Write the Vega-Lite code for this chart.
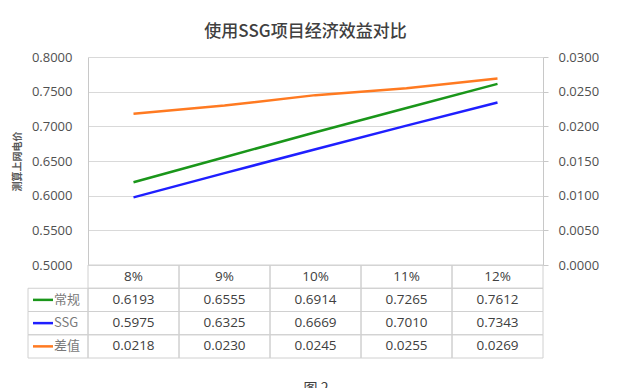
{
  "$schema": "https://vega.github.io/schema/vega-lite/v6.json",
  "padding": {"left": 12, "top": 23, "right": 5, "bottom": 0},
  "autosize": {"type": "pad"},
  "config": {"view": {"stroke": null}, "font": "Open Sans", "concat": {"spacing": 0}},
  "title": {"text": "使用SSG项目经济效益对比", "font": "Noto Sans CJK SC", "fontSize": 17, "fontWeight": 500, "color": "#404040", "anchor": "middle", "offset": 10},
  "datasets": {
    "d": [
      {"pct": "8%", "series": "常规", "value": 0.6193},
      {"pct": "9%", "series": "常规", "value": 0.6555},
      {"pct": "10%", "series": "常规", "value": 0.6914},
      {"pct": "11%", "series": "常规", "value": 0.7265},
      {"pct": "12%", "series": "常规", "value": 0.7612},
      {"pct": "8%", "series": "SSG", "value": 0.5975},
      {"pct": "9%", "series": "SSG", "value": 0.6325},
      {"pct": "10%", "series": "SSG", "value": 0.6669},
      {"pct": "11%", "series": "SSG", "value": 0.7010},
      {"pct": "12%", "series": "SSG", "value": 0.7343},
      {"pct": "8%", "series": "差值", "value": 0.0218},
      {"pct": "9%", "series": "差值", "value": 0.0230},
      {"pct": "10%", "series": "差值", "value": 0.0245},
      {"pct": "11%", "series": "差值", "value": 0.0255},
      {"pct": "12%", "series": "差值", "value": 0.0269}
    ]
  },
  "columns": 2,
  "spacing": 0,
  "bounds": "flush",
  "align": "each",
  "concat": [
    {"width": 60, "height": 208, "data": {"values": []}, "mark": "point", "encoding": {}},
    {
      "width": 455,
      "height": 208,
      "data": {"name": "d"},
      "layer": [
        {
          "transform": [{"filter": "datum.series !== '差值'"}],
          "mark": {"type": "line", "strokeWidth": 2.5},
          "encoding": {
            "x": {"field": "pct", "type": "ordinal", "sort": ["8%", "9%", "10%", "11%", "12%"], "axis": null},
            "y": {"field": "value", "type": "quantitative", "scale": {"domain": [0.5, 0.8], "zero": false, "nice": false},
              "axis": {"orient": "left", "values": [0.5, 0.55, 0.6, 0.65, 0.7, 0.75, 0.8], "format": ".4f", "title": "测算上网电价",
                "titleFont": "Noto Sans CJK SC", "titleFontSize": 10, "titleFontWeight": "bold", "titleColor": "#595959", "titlePadding": 9,
                "labelFontSize": 13, "labelColor": "#505050", "labelPadding": 16, "ticks": false,
                "domain": true, "domainColor": "#c8c8c8", "grid": true, "gridColor": "#d9d9d9"}},
            "color": {"field": "series", "type": "nominal", "scale": {"domain": ["常规", "SSG", "差值"], "range": ["#1a961a", "#1f1fff", "#ff7a21"]}, "legend": null}
          }
        },
        {
          "transform": [{"filter": "datum.series === '差值'"}],
          "mark": {"type": "line", "strokeWidth": 2.5},
          "encoding": {
            "x": {"field": "pct", "type": "ordinal", "sort": ["8%", "9%", "10%", "11%", "12%"], "axis": null},
            "y": {"field": "value", "type": "quantitative", "scale": {"domain": [0, 0.03], "nice": false},
              "axis": {"orient": "right", "values": [0, 0.005, 0.01, 0.015, 0.02, 0.025, 0.03], "format": ".4f", "title": null,
                "labelFontSize": 13, "labelColor": "#505050", "labelPadding": 10, "ticks": true, "tickSize": 5, "tickColor": "#c8c8c8",
                "domain": true, "domainColor": "#c8c8c8", "grid": false}},
            "color": {"field": "series", "type": "nominal", "legend": null}
          }
        }
      ],
      "resolve": {"scale": {"y": "independent"}}
    },
    {
      "width": 60,
      "height": 93,
      "data": {"name": "d"},
      "transform": [{"filter": "datum.pct === '8%'"}],
      "layer": [
        {
          "mark": {"type": "rect", "fill": "transparent", "stroke": "#d0d0d0", "strokeWidth": 1},
          "encoding": {
            "y": {"field": "series", "type": "nominal", "scale": {"domain": ["pct", "常规", "SSG", "差值"], "paddingInner": 0, "paddingOuter": 0}, "axis": null}
          }
        },
        {
          "mark": {"type": "point", "shape": "stroke", "size": 400, "strokeWidth": 2.5, "opacity": 1},
          "encoding": {
            "x": {"datum": "sym", "type": "nominal", "scale": {"type": "band", "domain": ["sym", "lab"], "paddingInner": 0, "paddingOuter": 0}, "axis": null},
            "y": {"field": "series", "type": "nominal", "axis": null},
            "color": {"field": "series", "type": "nominal", "scale": {"domain": ["常规", "SSG", "差值"], "range": ["#1a961a", "#1f1fff", "#ff7a21"]}, "legend": null}
          }
        },
        {
          "mark": {"type": "text", "align": "left", "font": "Noto Sans CJK SC", "fontSize": 13, "color": "#7a7a7a", "dx": -19},
          "encoding": {
            "x": {"datum": "lab", "type": "nominal", "axis": null},
            "y": {"field": "series", "type": "nominal", "axis": null},
            "text": {"field": "series"}
          }
        }
      ]
    },
    {
      "width": 455,
      "height": 93,
      "data": {"name": "d"},
      "encoding": {
        "x": {"field": "pct", "type": "ordinal", "sort": ["8%", "9%", "10%", "11%", "12%"],
          "scale": {"type": "band", "paddingInner": 0, "paddingOuter": 0},
          "axis": {"orient": "bottom", "labels": false, "ticks": false, "domain": false, "grid": false, "title": "图 2",
            "titleFont": "Noto Sans CJK SC", "titleFontSize": 14, "titleFontWeight": "normal", "titleColor": "#404040", "titlePadding": 23}}
      },
      "layer": [
        {
          "mark": {"type": "rect", "fill": "transparent", "stroke": "#d0d0d0", "strokeWidth": 1},
          "encoding": {
            "y": {"field": "series", "type": "nominal", "scale": {"domain": ["pct", "常规", "SSG", "差值"], "paddingInner": 0, "paddingOuter": 0}, "axis": null}
          }
        },
        {
          "transform": [{"filter": "datum.series === '常规'"}],
          "mark": {"type": "rect", "fill": "transparent", "stroke": "#d0d0d0", "strokeWidth": 1},
          "encoding": {
            "y": {"datum": "pct", "type": "nominal"}
          }
        },
        {
          "mark": {"type": "text", "fontSize": 13.5, "color": "#404040"},
          "encoding": {
            "y": {"field": "series", "type": "nominal"},
            "text": {"field": "value", "type": "quantitative", "format": ".4f"}
          }
        },
        {
          "transform": [{"filter": "datum.series === '常规'"}],
          "mark": {"type": "text", "fontSize": 13.5, "color": "#404040"},
          "encoding": {
            "y": {"datum": "pct", "type": "nominal"},
            "text": {"field": "pct"}
          }
        }
      ]
    }
  ]
}
